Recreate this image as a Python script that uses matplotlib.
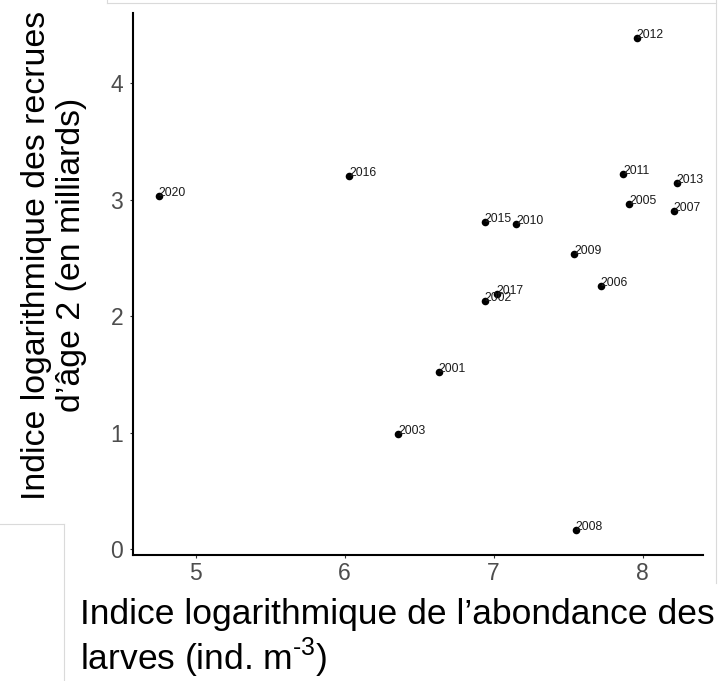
import matplotlib
matplotlib.use("Agg")
import matplotlib.pyplot as plt
import numpy as np

# Indices log : abondance des larves (x) et recrues d'âge 2 (y), par année
annees = ["2012", "2016", "2020", "2011", "2013", "2005", "2007", "2015",
          "2010", "2009", "2006", "2017", "2002", "2001", "2003", "2008"]
larves = [7.96, 6.03, 4.75, 7.87, 8.23, 7.91, 8.21, 6.94,
          7.15, 7.54, 7.72, 7.02, 6.94, 6.63, 6.36, 7.55]
recrues = [4.39, 3.20, 3.03, 3.22, 3.14, 2.96, 2.90, 2.81,
           2.79, 2.53, 2.26, 2.19, 2.13, 1.52, 0.99, 0.16]

x_ticks = [5, 6, 7, 8]
y_ticks = [0, 1, 2, 3, 4]

plt.rcParams["font.family"] = ["Liberation Sans", "DejaVu Sans"]
plt.rcParams["mathtext.fontset"] = "custom"
plt.rcParams["mathtext.rm"] = "Liberation Sans"

W, H = 719, 681
fig = plt.figure(figsize=(W / 100, H / 100), dpi=100)

# panel en pixels : gauche, haut, droite, bas
px_l, px_t, px_r, px_b = 132.7, 13.3, 702.7, 555.0
ax = fig.add_axes([px_l / W, 1 - px_b / H, (px_r - px_l) / W, (px_b - px_t) / H])

ax.scatter(larves, recrues, s=30, color="black", zorder=3, linewidths=0)
for a, xv, yv in zip(annees, larves, recrues):
    ax.text(xv, yv, a, fontsize=8.8, color="#1a1a1a", ha="left",
            va="baseline", zorder=4)

# expansion de 5 % comme ggplot
def etendue(v):
    lo, hi = min(v), max(v)
    d = (hi - lo) * 0.05
    return lo - d, hi + d

ax.set_xlim(*etendue(larves))
ax.set_ylim(*etendue(recrues))
ax.set_xticks(x_ticks)
ax.set_yticks(y_ticks)

for s in ["top", "right"]:
    ax.spines[s].set_visible(False)
for s in ["left", "bottom"]:
    ax.spines[s].set_linewidth(1.5)
    ax.spines[s].set_color("black")

ax.tick_params(direction="out", length=2.3, width=0.8, color="#333333",
               labelsize=16.5, labelcolor="#4d4d4d")
ax.tick_params(axis="x", pad=2.5)
ax.tick_params(axis="y", pad=4.5)

ax.set_xlabel("Indice logarithmique de l’abondance des\nlarves (ind. m$^{\\text{-3}}$)",
              fontsize=25.5, ha="left", va="top", multialignment="left",
              linespacing=1.15)
ax.xaxis.set_label_coords((80 - px_l) / (px_r - px_l), -(598 - px_b) / (px_b - px_t))

ax.set_ylabel("Indice logarithmique des recrues\nd’âge 2 (en milliards)",
              fontsize=24.4, ha="center", va="center", multialignment="center",
              linespacing=1.15)
ax.yaxis.set_label_coords((54 - px_l) / (px_r - px_l), (px_b - 255) / (px_b - px_t))

# filets gris clairs du cadre de la diapositive
gris = "#dadada"
fig.add_artist(plt.Line2D([107 / W, 716 / W], [1 - 3 / H, 1 - 3 / H], color=gris, lw=0.8))
fig.add_artist(plt.Line2D([107 / W, 107 / W], [1, 1 - 3 / H], color=gris, lw=0.8))
fig.add_artist(plt.Line2D([716 / W, 716 / W], [1, 1 - 583 / H], color=gris, lw=0.8))
fig.add_artist(plt.Line2D([0, 64 / W], [1 - 524 / H, 1 - 524 / H], color=gris, lw=0.8))
fig.add_artist(plt.Line2D([64 / W, 64 / W], [1 - 524 / H, 0], color=gris, lw=0.8))

fig.savefig("out.png", dpi=100, facecolor="white")
